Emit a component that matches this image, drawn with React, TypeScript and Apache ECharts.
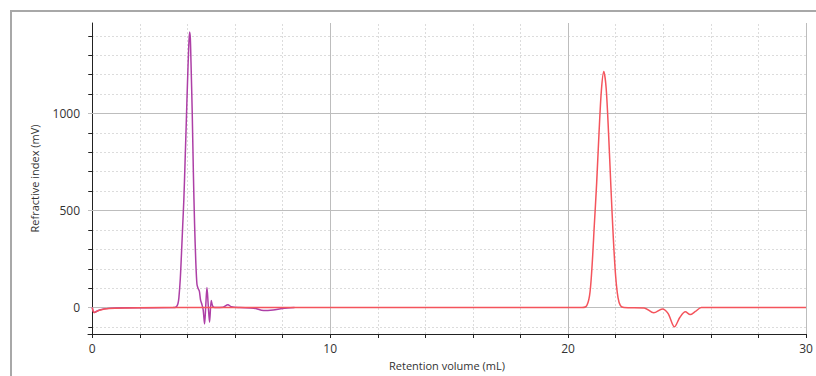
import React, { useEffect, useRef } from "react";
import * as echarts from "echarts";

// Purple trace (early eluting peak) — [retention volume (mL), RI (mV)]
const purpleX = [0, 0.08, 0.3, 0.7, 1.5, 3.4, 3.53, 3.6, 3.64, 3.7, 3.75, 3.8, 3.85, 3.9, 3.95, 4.0, 4.05, 4.09, 4.12, 4.15, 4.2, 4.25, 4.3, 4.35, 4.4, 4.45, 4.5, 4.55, 4.6, 4.66, 4.72, 4.77, 4.82, 4.87, 4.93, 5.0, 5.06, 5.15, 5.5, 5.7, 5.85, 6.2, 6.8, 7.2, 7.6, 8.0, 8.5];
const purpleY = [0, -25, -12, -4, -1, 0, 4, 20, 50, 150, 280, 420, 560, 750, 950, 1150, 1330, 1420, 1390, 1260, 1010, 690, 430, 240, 120, 98, 85, 40, 20, -10, -84, 10, 104, 20, -75, 36, 8, 0, 2, 15, 4, 0, -3, -15, -12, -5, 0];

// Red trace (late eluting peak)
const redX = [0, 0.08, 0.3, 0.7, 1.5, 3, 10, 20, 20.5, 20.75, 20.9, 21.0, 21.1, 21.2, 21.3, 21.4, 21.5, 21.6, 21.7, 21.8, 21.9, 22.0, 22.1, 22.2, 22.35, 23.2, 23.6, 23.96, 24.2, 24.47, 24.7, 24.93, 25.13, 25.35, 25.6, 27, 30];
const redY = [0, -25, -14, -5, -2, 0, 0, 0, 0, 5, 60, 200, 420, 640, 900, 1120, 1216, 1130, 900, 620, 360, 160, 50, 10, 0, -2, -27, -7, -30, -99, -50, -22, -36, -20, 0, 0, 0];

const xLabelValues = [0, 10, 20, 30];
const xTickValues = [0, 2, 4, 6, 8, 10, 12, 14, 16, 18, 20, 22, 24, 26, 28, 30];
const xMajorGrid = [10, 20, 30];
const xMinorGrid = [2, 4, 6, 8, 12, 14, 16, 18, 22, 24, 26, 28];

const yLabelValues = [0, 500, 1000];
const yTickValues = [-100, 0, 100, 200, 300, 400, 500, 600, 700, 800, 900, 1000, 1100, 1200, 1300, 1400];
const yMajorGrid = [0, 500, 1000];
const yMinorGrid = [-100, 100, 200, 300, 400, 600, 700, 800, 900, 1100, 1200, 1300, 1400];

const FONT = "'Open Sans', 'Noto Sans', sans-serif";

export default function App() {
  const ref = useRef<HTMLDivElement>(null);
  useEffect(() => {
    if (!ref.current) return;
    const chart = echarts.init(ref.current, null, { renderer: "svg" });
    const purple = purpleX.map((x, i) => [x, purpleY[i]]);
    const red = redX.map((x, i) => [x, redY[i]]);
    chart.setOption({
      animation: false,
      backgroundColor: "#ffffff",
      graphic: [
        {
          type: "polyline",
          silent: true,
          shape: { points: [[11, 380], [11, 11], [820, 11]] },
          style: { stroke: "#a8a8a8", lineWidth: 2, fill: null },
          z: 0,
        },
      ],
      grid: { left: 88, right: 10, top: 23, bottom: 39, containLabel: false },
      xAxis: {
        type: "value",
        min: -0.18,
        max: 30,
        name: "Retention volume (mL)",
        nameLocation: "middle",
        nameGap: 26,
        nameTextStyle: { color: "#333", fontSize: 11, fontFamily: FONT },
        axisLine: { show: true, onZero: false, lineStyle: { color: "#222", width: 1 } },
        axisTick: { show: true, customValues: xTickValues, length: 4, lineStyle: { color: "#222" } },
        axisLabel: {
          customValues: xLabelValues,
          color: "#333",
          fontSize: 12,
          fontFamily: FONT,
          margin: 8,
          formatter: (v: number) => String(v),
        },
        splitLine: { show: false },
      },
      yAxis: {
        type: "value",
        min: -136,
        max: 1466,
        name: "Refractive index (mV)",
        nameLocation: "middle",
        nameGap: 48,
        nameTextStyle: { color: "#333", fontSize: 11, fontFamily: FONT },
        axisLine: { show: true, lineStyle: { color: "#222", width: 1 } },
        axisTick: { show: true, customValues: yTickValues, length: 4, lineStyle: { color: "#222" } },
        axisLabel: {
          customValues: yLabelValues,
          color: "#333",
          fontSize: 12,
          fontFamily: FONT,
          margin: 8,
          formatter: (v: number) => String(v),
        },
        splitLine: { show: false },
      },
      series: [
        {
          type: "line",
          name: "minorGrid",
          data: [],
          silent: true,
          z: 0,
          markLine: {
            silent: true,
            z: 0,
            symbol: "none",
            label: { show: false },
            lineStyle: { color: "#dcdcdc", type: [2, 2], width: 1 },
            data: [
              ...xMinorGrid.map((v) => ({ xAxis: v })),
              ...yMinorGrid.map((v) => ({ yAxis: v })),
            ],
          },
        },
        {
          type: "line",
          name: "majorGrid",
          data: [],
          silent: true,
          z: 1,
          markLine: {
            silent: true,
            z: 1,
            symbol: "none",
            label: { show: false },
            lineStyle: { color: "#bdbdbd", type: "solid", width: 1 },
            data: [
              ...xMajorGrid.map((v) => ({ xAxis: v })),
              ...yMajorGrid.map((v) => ({ yAxis: v })),
            ],
          },
        },
        {
          type: "line",
          name: "Sample A",
          data: purple,
          showSymbol: false,
          smooth: 0.3,
          z: 3,
          lineStyle: { color: "#ad3fa6", width: 1.5 },
          itemStyle: { color: "#ad3fa6" },
        },
        {
          type: "line",
          name: "Sample B",
          data: red,
          showSymbol: false,
          smooth: 0.3,
          z: 4,
          lineStyle: { color: "#f4545c", width: 1.5 },
          itemStyle: { color: "#f4545c" },
        },
      ],
    });
    return () => chart.dispose();
  }, []);
  return (
    <div
      ref={ref}
      style={{ position: "fixed", left: 0, top: 0, width: 816, height: 376 }}
    />
  );
}
